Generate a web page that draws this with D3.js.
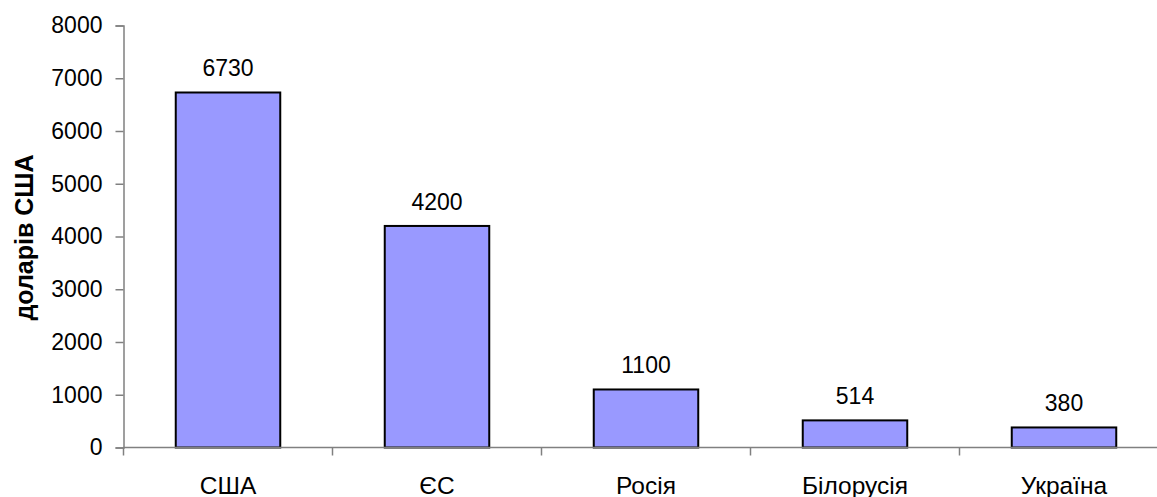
<!DOCTYPE html>
<html>
<head>
<meta charset="utf-8">
<script src="https://cdn.jsdelivr.net/npm/d3@7"></script>
<style>
  body { margin: 0; background: #fff; }
  text { font-family: "Liberation Sans", Arial, sans-serif; }
</style>
</head>
<body>
<div id="canvas"></div>
<script>
var width = 1157,
	height = 497;

// data
var categories = ["США", "ЄС", "Росія", "Білорусія", "Україна"];
var values = [6730, 4200, 1100, 514, 380];
var yTicks = [0, 1000, 2000, 3000, 4000, 5000, 6000, 7000, 8000];
var yTitle = "доларів США";

var marginLeft = 123.5,
	plotTop = 25.5,
	plotBottom = 447.5,
	bandW = 209,
	fontSize = 23;

var svg = d3.select("#canvas").append("svg")
	.attr("width", width)
	.attr("height", height);

var x = d3.scaleBand()
	.domain(categories)
	.range([marginLeft, marginLeft + bandW * categories.length])
	.paddingInner(0.5)
	.paddingOuter(0.25);

var y = d3.scaleLinear()
	.domain([0, 8000])
	.range([plotBottom, plotTop]);

// bars
svg.selectAll(".bar")
	.data(values)
	.enter()
	.append("rect")
	.classed("bar", true)
	.attr("x", function(d, i){ return x(categories[i]); })
	.attr("y", function(d){ return y(d); })
	.attr("width", x.bandwidth())
	.attr("height", function(d){ return y(0) - y(d); })
	.attr("fill", "#9999ff")
	.attr("stroke", "#000")
	.attr("stroke-width", 2);

// value labels
svg.selectAll(".val")
	.data(values)
	.enter()
	.append("text")
	.classed("val", true)
	.attr("x", function(d, i){ return x(categories[i]) + x.bandwidth() / 2; })
	.attr("y", function(d){ return y(d) - 16; })
	.attr("text-anchor", "middle")
	.attr("font-size", fontSize)
	.attr("fill", "#000")
	.text(function(d){ return d; });

// y axis
var yAxis = svg.append("g")
	.attr("transform", "translate(" + marginLeft + ",0)")
	.call(d3.axisLeft(y).tickValues(yTicks).tickSize(8).tickPadding(13).tickFormat(d3.format("d")));
yAxis.select(".domain").attr("stroke", "#808080").attr("stroke-width", 1.5);
yAxis.selectAll(".tick line").attr("stroke", "#808080").attr("stroke-width", 1.5);
yAxis.selectAll(".tick text")
	.attr("font-size", fontSize)
	.attr("font-family", "Liberation Sans, Arial, sans-serif")
	.attr("fill", "#000");

// x axis: ticks at band edges
var edges = categories.map(function(c){ return x(c) - x.step() * x.paddingInner() / 2; });
var xAxisG = svg.append("g").attr("class", "x-axis");
xAxisG.append("line")
	.attr("x1", marginLeft).attr("x2", width)
	.attr("y1", plotBottom).attr("y2", plotBottom)
	.attr("stroke", "#808080").attr("stroke-width", 1.5);
xAxisG.selectAll(".xt")
	.data(edges)
	.enter()
	.append("line")
	.classed("xt", true)
	.attr("x1", function(d){ return d; }).attr("x2", function(d){ return d; })
	.attr("y1", plotBottom).attr("y2", plotBottom + 8)
	.attr("stroke", "#808080").attr("stroke-width", 1.5);
xAxisG.selectAll(".xl")
	.data(categories)
	.enter()
	.append("text")
	.classed("xl", true)
	.attr("x", function(d){ return x(d) + x.bandwidth() / 2; })
	.attr("y", plotBottom + 46)
	.attr("text-anchor", "middle")
	.attr("font-size", 24.5)
	.attr("fill", "#000")
	.text(function(d){ return d; });

// y title
svg.append("text")
	.attr("transform", "translate(33," + ((plotTop + plotBottom) / 2 + 1) + ") rotate(-90)")
	.attr("text-anchor", "middle")
	.attr("font-size", 25)
	.attr("font-weight", "bold")
	.attr("fill", "#000")
	.text(yTitle);
</script>
</body>
</html>
